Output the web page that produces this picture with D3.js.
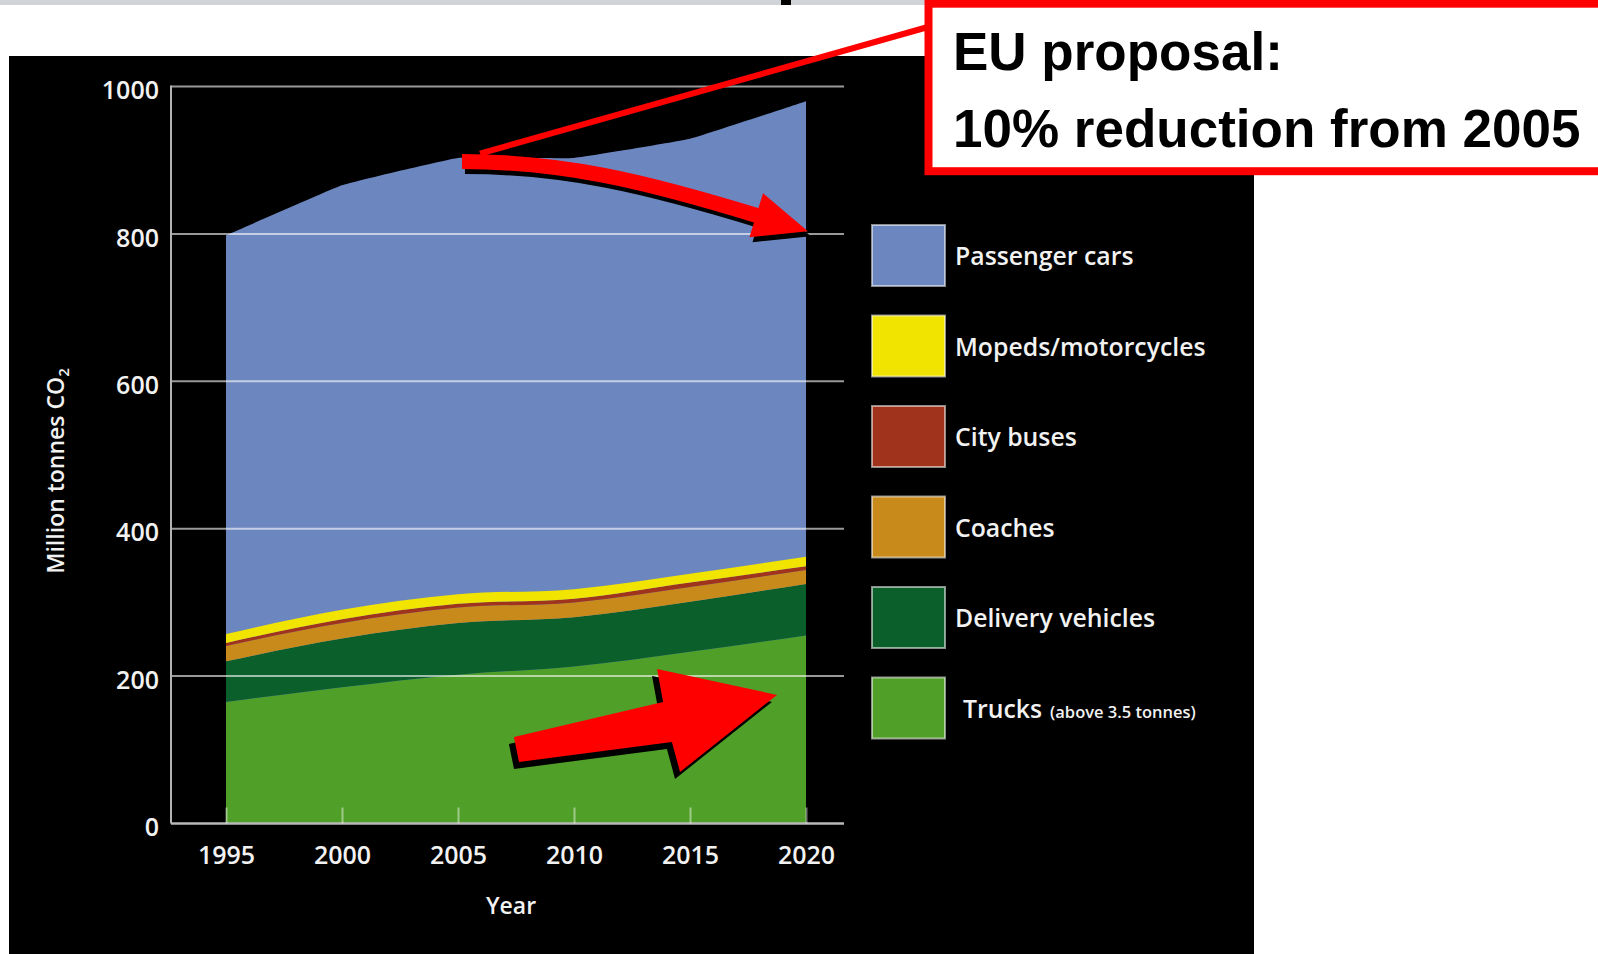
<!DOCTYPE html>
<html><head><meta charset="utf-8">
<script src="https://cdn.jsdelivr.net/npm/d3@7"></script>
<style>html,body{margin:0;padding:0;background:#fff;overflow:hidden}</style>
</head><body><svg id="c" width="1598" height="954"></svg>
<script>
// ---- data (million tonnes CO2, EU road transport) ----
const years = [1995, 2000, 2005, 2010, 2015, 2020];
const trucks = [165, 185, 202, 213, 233, 255];
const delivery = [55, 66, 70, 67, 68, 70];
const coaches = [21, 21, 21, 20, 20, 19];
const cityBuses = [4, 5, 5, 5, 6, 5];
const mopeds = [12, 13, 13, 13, 12, 13];
const passengerCars = [541, 576, 592, 585, 590, 618];
const seriesKeys = ["trucks", "delivery", "coaches", "cityBuses", "mopeds", "passengerCars"];
const seriesLabels = ["Trucks", "Delivery vehicles", "Coaches", "City buses", "Mopeds/motorcycles", "Passenger cars"];
const seriesColors = ["#509f29", "#0a5f2b", "#c98a1c", "#a0331c", "#f0e400", "#6c87bf"];
const yTicks = [0, 200, 400, 600, 800, 1000];
const xTicks = years;

const table = years.map((yr, i) => ({
  year: yr, trucks: trucks[i], delivery: delivery[i], coaches: coaches[i],
  cityBuses: cityBuses[i], mopeds: mopeds[i], passengerCars: passengerCars[i]
}));

const svg = d3.select("#c");
const font = "'Open Sans', 'Noto Sans', sans-serif";

// slide background bits
svg.append("rect").attr("x", 0).attr("y", 0).attr("width", 1598).attr("height", 5).attr("fill", "#d0d4d8");
svg.append("rect").attr("x", 781).attr("y", 0).attr("width", 10).attr("height", 5).attr("fill", "#000");
svg.append("rect").attr("x", 9).attr("y", 56).attr("width", 1245).attr("height", 898).attr("fill", "#000");

const x = d3.scaleLinear().domain([1995, 2020]).range([226, 806]);
const y = d3.scaleLinear().domain([0, 1000]).range([823.5, 86.5]);
const plotLeft = 171, plotRight = 844;

const stack = d3.stack().keys(seriesKeys);
const layers = stack(table);
const area = d3.area()
  .x(d => x(d.data.year))
  .y0(d => y(d[0]))
  .y1(d => y(d[1]))
  .curve(d3.curveMonotoneX);

// top layer (passenger cars): drawn down to the baseline, its upper edge with light rounding
const topLayer = layers[layers.length - 1];
svg.append("path").datum(topLayer)
  .attr("d", d3.area().x(d => x(d.data.year)).y0(y(0)).y1(d => y(d[1])).curve(d3.curveCardinal.tension(0.75)))
  .attr("fill", seriesColors[seriesColors.length - 1]);
// lower layers on top
svg.append("g").selectAll("path").data(layers.slice(0, -1)).join("path")
  .attr("d", area)
  .attr("fill", (d, i) => seriesColors[i]);

// gridlines
svg.append("g").selectAll("line").data(yTicks.filter(v => v > 0)).join("line")
  .attr("x1", plotLeft).attr("x2", plotRight)
  .attr("y1", d => y(d)).attr("y2", d => y(d))
  .attr("stroke", "#ffffff").attr("stroke-opacity", 0.6).attr("stroke-width", 2);

// axis lines
svg.append("line").attr("x1", plotLeft).attr("x2", plotLeft).attr("y1", y(1000) - 1).attr("y2", y(0))
  .attr("stroke", "#b4b4b4").attr("stroke-width", 2);
svg.append("line").attr("x1", plotLeft).attr("x2", plotRight).attr("y1", y(0)).attr("y2", y(0))
  .attr("stroke", "#b8b8b8").attr("stroke-width", 2.5);

// y axis
const yAxis = svg.append("g").attr("transform", `translate(${plotLeft},0)`)
  .call(d3.axisLeft(y).tickValues(yTicks).tickSize(0).tickPadding(12).tickFormat(d3.format("d")));
yAxis.select(".domain").remove();
yAxis.selectAll("text").attr("fill", "#f2f2f2").attr("font-family", font).attr("font-size", 25)
  .attr("font-weight", 600).attr("dy", "0.49em");

// x axis
const xAxis = svg.append("g").attr("transform", `translate(0,${y(0)})`)
  .call(d3.axisBottom(x).tickValues(xTicks).tickSizeInner(-16).tickSizeOuter(0).tickPadding(23).tickFormat(d3.format("d")));
xAxis.select(".domain").remove();
xAxis.selectAll(".tick line").attr("stroke", "#ffffff").attr("stroke-opacity", 0.45).attr("stroke-width", 2);
xAxis.selectAll("text").attr("fill", "#f2f2f2").attr("font-family", font).attr("font-size", 25).attr("font-weight", 600);

// axis titles
svg.append("text").attr("x", 511).attr("y", 914).attr("text-anchor", "middle")
  .attr("fill", "#f2f2f2").attr("font-family", font).attr("font-size", 23).attr("font-weight", 600).text("Year");
const yt = svg.append("text").attr("transform", "translate(64,471) rotate(-90)").attr("text-anchor", "middle")
  .attr("fill", "#f2f2f2").attr("font-family", font).attr("font-size", 23).attr("font-weight", 600);
yt.append("tspan").text("Million tonnes CO");
yt.append("tspan").attr("font-size", 15).attr("dy", 5).text("2");

// legend
const legendOrder = [5, 4, 3, 2, 1, 0];
const lg = svg.append("g");
legendOrder.forEach((si, k) => {
  const top = 225 + k * 90.5;
  lg.append("rect").attr("x", 872).attr("y", top).attr("width", 73).attr("height", 61)
    .attr("fill", seriesColors[si]).attr("stroke", "#ffffff").attr("stroke-opacity", 0.55).attr("stroke-width", 2);
  const t = lg.append("text").attr("x", si === 0 ? 963 : 955).attr("y", top + 40)
    .attr("fill", "#f2f2f2").attr("font-family", font).attr("font-size", 24.8).attr("font-weight", 600);
  t.append("tspan").text(seriesLabels[si]);
  if (si === 0) t.append("tspan").attr("font-size", 16.5).attr("dx", 8).text("(above 3.5 tonnes)");
});

// ---- annotations ----
const red = "#ff0000";
// thin connector line
svg.append("line").attr("x1", x(2005.95)).attr("y1", y(909)).attr("x2", 928).attr("y2", 27)
  .attr("stroke", red).attr("stroke-width", 6);

// curved arrow (cars trajectory)
function curvedArrow(g, color) {
  const S = [x(2005.17), y(898.2)], C1 = [x(2009.4), y(898.2)], C2 = [x(2012.84), y(873.8)], E = [x(2018.02), y(823.6)];
  g.append("path").attr("d", `M${S}C${C1} ${C2} ${E}`).attr("fill", "none")
    .attr("stroke", color).attr("stroke-width", 15).attr("stroke-linecap", "butt");
  const dx = E[0] - C2[0], dy = E[1] - C2[1], L = Math.hypot(dx, dy);
  const ux = dx / L, uy = dy / L, nx = -uy, ny = ux;
  const back = 4, hw = 23, hl = 50;
  const B = [E[0] - ux * back, E[1] - uy * back];
  const pts = [[B[0] + nx * hw, B[1] + ny * hw], [B[0] - nx * hw, B[1] - ny * hw], [E[0] + ux * hl, E[1] + uy * hl]];
  g.append("polygon").attr("points", pts.map(p => p.join(",")).join(" ")).attr("fill", color);
}
curvedArrow(svg.append("g").attr("transform", "translate(3,5)"), "#000");
curvedArrow(svg.append("g"), red);

// block arrow (trucks trajectory)
const blockPts = [[2007.41, 117.4], [2013.84, 165.0], [2013.58, 209.8], [2018.75, 174.5], [2014.57, 69.9], [2014.22, 110.7], [2007.63, 83.5]];
const blockStr = blockPts.map(p => [x(p[0]), y(p[1])].join(",")).join(" ");
svg.append("polygon").attr("points", blockStr).attr("fill", "#000").attr("transform", "translate(-5,7)");
svg.append("polygon").attr("points", blockStr).attr("fill", red);

// proposal box
svg.append("rect").attr("x", 928.5).attr("y", 3.7).attr("width", 700).attr("height", 167.5)
  .attr("fill", "#fff").attr("stroke", red).attr("stroke-width", 8);
const bf = "'Liberation Sans', Arial, sans-serif";
svg.append("text").attr("x", 953).attr("y", 70).attr("font-family", bf).attr("font-weight", 700)
  .attr("font-size", 53).attr("fill", "#000").text("EU proposal:");
svg.append("text").attr("x", 953).attr("y", 147).attr("font-family", bf).attr("font-weight", 700)
  .attr("font-size", 53).attr("fill", "#000").text("10% reduction from 2005");
</script></body></html>
